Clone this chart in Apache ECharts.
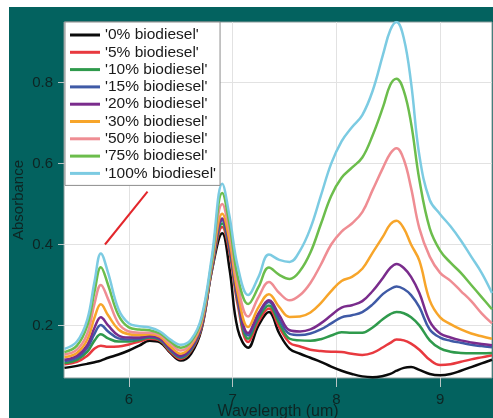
<!DOCTYPE html>
<html>
<head>
<meta charset="utf-8">
<script src="https://cdn.jsdelivr.net/npm/echarts@6/dist/echarts.min.js"></script>
<style>
  html, body { margin: 0; padding: 0; background: #ffffff; }
  #bg { position: absolute; left: 9px; top: 7px; width: 484px; height: 411px; background: #03625f; }
  #main { position: absolute; left: 0; top: 0; width: 493px; height: 418px; }
</style>
</head>
<body>
<div id="bg"></div>
<div id="main"></div>
<script>
// wavelength (um)
const wavelength = [5.38, 5.5, 5.6, 5.67, 5.73, 5.8, 5.9, 6.0, 6.1, 6.2, 6.3, 6.4, 6.5, 6.6, 6.7, 6.8, 6.9, 6.97, 7.05, 7.15,
  7.25, 7.35, 7.45, 7.55, 7.65, 7.75, 7.85, 7.95, 8.05, 8.15, 8.25, 8.35, 8.45, 8.52, 8.58, 8.65, 8.72, 8.8, 8.9, 9.0,
  9.1, 9.2, 9.3, 9.4, 9.5];

const names = ["'0% biodiesel'", "'5% biodiesel'", "'10% biodiesel'", "'15% biodiesel'", "'20% biodiesel'",
  "'30% biodiesel'", "'50% biodiesel'", "'75% biodiesel'", "'100% biodiesel'"];
const colors = ['#0a0a0a', '#e8393f', '#2f9a4c', '#3f5aa6', '#7a2c8c', '#f7a52a', '#ef8d93', '#6cbd4c', '#7ccbe2'];

const b0 = [0.095, 0.1, 0.105, 0.109, 0.113, 0.12, 0.128, 0.138, 0.15, 0.162, 0.158, 0.132, 0.113, 0.13, 0.19, 0.335, 0.428, 0.34, 0.19, 0.145,
  0.2, 0.233, 0.18, 0.142, 0.13, 0.12, 0.11, 0.098, 0.088, 0.08, 0.074, 0.072, 0.075, 0.08, 0.088, 0.095, 0.097, 0.09, 0.08, 0.077,
  0.08, 0.088, 0.097, 0.106, 0.115];
const b5 = [0.104, 0.11, 0.125, 0.143, 0.15, 0.147, 0.148, 0.153, 0.16, 0.167, 0.162, 0.135, 0.117, 0.137, 0.193, 0.337, 0.443, 0.38, 0.25, 0.159,
  0.21, 0.242, 0.195, 0.157, 0.148, 0.14, 0.137, 0.135, 0.134, 0.13, 0.127, 0.132, 0.146, 0.157, 0.165, 0.163, 0.155, 0.14, 0.115, 0.102,
  0.104, 0.11, 0.116, 0.121, 0.126];
const b10 = [0.107, 0.115, 0.135, 0.163, 0.178, 0.168, 0.16, 0.16, 0.164, 0.17, 0.164, 0.138, 0.12, 0.14, 0.196, 0.34, 0.452, 0.39, 0.26, 0.167,
  0.218, 0.249, 0.205, 0.167, 0.163, 0.162, 0.166, 0.175, 0.183, 0.182, 0.182, 0.195, 0.216, 0.228, 0.233, 0.23, 0.22, 0.2, 0.163, 0.143,
  0.135, 0.132, 0.131, 0.131, 0.132];
const b15 = [0.112, 0.12, 0.145, 0.18, 0.201, 0.185, 0.168, 0.165, 0.167, 0.172, 0.166, 0.14, 0.122, 0.142, 0.198, 0.343, 0.46, 0.395, 0.265, 0.175,
  0.225, 0.258, 0.215, 0.179, 0.176, 0.18, 0.19, 0.205, 0.22, 0.225, 0.233, 0.252, 0.278, 0.29, 0.296, 0.29, 0.275, 0.245, 0.19, 0.17,
  0.162, 0.157, 0.152, 0.149, 0.146];
const b20 = [0.115, 0.125, 0.152, 0.195, 0.22, 0.2, 0.175, 0.17, 0.17, 0.174, 0.168, 0.143, 0.125, 0.145, 0.2, 0.345, 0.464, 0.4, 0.27, 0.181,
  0.23, 0.262, 0.225, 0.188, 0.185, 0.19, 0.205, 0.225, 0.244, 0.25, 0.26, 0.285, 0.318, 0.342, 0.352, 0.342, 0.32, 0.28, 0.21, 0.18,
  0.17, 0.163, 0.158, 0.154, 0.151];
const b30 = [0.122, 0.132, 0.165, 0.22, 0.252, 0.225, 0.19, 0.178, 0.176, 0.178, 0.172, 0.148, 0.13, 0.15, 0.205, 0.35, 0.476, 0.41, 0.28, 0.196,
  0.245, 0.277, 0.245, 0.221, 0.222, 0.232, 0.255, 0.285, 0.31, 0.32, 0.34, 0.38, 0.42, 0.45, 0.459, 0.44, 0.4, 0.36, 0.262, 0.22,
  0.203, 0.19, 0.18, 0.173, 0.167];
const b50 = [0.128, 0.14, 0.18, 0.255, 0.3, 0.265, 0.205, 0.185, 0.182, 0.182, 0.176, 0.155, 0.138, 0.155, 0.21, 0.355, 0.5, 0.43, 0.3, 0.222,
  0.27, 0.307, 0.28, 0.262, 0.275, 0.305, 0.35, 0.4, 0.432, 0.452, 0.48, 0.535, 0.59, 0.625, 0.638, 0.61, 0.54, 0.44, 0.37, 0.33,
  0.31, 0.285, 0.26, 0.23, 0.205];
const b75 = [0.134, 0.15, 0.2, 0.285, 0.344, 0.3, 0.225, 0.195, 0.19, 0.188, 0.18, 0.16, 0.145, 0.16, 0.215, 0.36, 0.527, 0.45, 0.32, 0.253,
  0.295, 0.343, 0.325, 0.315, 0.335, 0.38, 0.45, 0.52, 0.565, 0.59, 0.615, 0.67, 0.74, 0.795, 0.81, 0.78, 0.7, 0.56, 0.44, 0.385,
  0.355, 0.33, 0.3, 0.27, 0.24];
const b100 = [0.142, 0.16, 0.215, 0.31, 0.378, 0.33, 0.24, 0.205, 0.198, 0.195, 0.185, 0.165, 0.152, 0.165, 0.22, 0.37, 0.55, 0.47, 0.345, 0.275,
  0.32, 0.375, 0.362, 0.357, 0.385, 0.44, 0.52, 0.6, 0.655, 0.69, 0.72, 0.78, 0.87, 0.93, 0.95, 0.91, 0.8, 0.62, 0.51, 0.475,
  0.445, 0.41, 0.37, 0.33, 0.28];

const allSeries = [b0, b5, b10, b15, b20, b30, b50, b75, b100];

// red pointer line near the 5.7 um peak
const arrowX = [5.77, 6.18];
const arrowY = [0.40, 0.531];

const xTicks = [6, 7, 8, 9];
const yTicks = [0.2, 0.4, 0.6, 0.8];

const textColor = '#0e2523';
const font = 'Liberation Sans, Arial, sans-serif';

let myChart = echarts.init(document.getElementById('main'));

let series = allSeries.map(function (vals, i) {
  return {
    name: names[i],
    type: 'line',
    smooth: 0.4,
    symbol: 'none',
    lineStyle: { width: 2.5, color: colors[i] },
    itemStyle: { color: colors[i] },
    data: wavelength.map(function (x, j) { return [x, vals[j]]; })
  };
});
series.push({
  name: 'arrow',
  type: 'line',
  symbol: 'none',
  silent: true,
  lineStyle: { width: 2, color: '#e3262b' },
  data: arrowX.map(function (x, j) { return [x, arrowY[j]]; })
});

myChart.setOption({
  animation: false,
  grid: {
    left: 64,
    top: 22,
    right: 1,
    bottom: 40,
    outerBoundsMode: 'none',
    containLabel: false,
    show: true,
    backgroundColor: '#ffffff',
    borderColor: '#8a9a9a',
    borderWidth: 1
  },
  legend: {
    data: names,
    orient: 'vertical',
    left: 65,
    top: 22,
    padding: [5, 4, 4, 5],
    backgroundColor: '#ffffff',
    borderColor: '#8c8c8c',
    borderWidth: 1,
    icon: 'rect',
    itemWidth: 30,
    itemHeight: 3,
    itemGap: 1.3,
    selectedMode: false,
    textStyle: { fontFamily: font, fontSize: 15.5, lineHeight: 16, color: '#1a1a1a' }
  },
  xAxis: {
    type: 'value',
    min: 5.375,
    max: 9.5,
    name: 'Wavelength (um)',
    nameLocation: 'middle',
    nameGap: 26,
    nameMoveOverlap: false,
    nameTextStyle: { fontFamily: font, fontSize: 16, color: textColor },
    axisLine: { show: false },
    axisTick: { show: true, length: 9, customValues: xTicks, lineStyle: { color: '#b8c4c4' } },
    axisLabel: { customValues: xTicks, margin: 14, fontFamily: font, fontSize: 15, color: textColor },
    splitLine: { show: true, lineStyle: { color: '#e2e2e2', width: 1 } }
  },
  yAxis: {
    type: 'value',
    min: 0.07,
    max: 0.95,
    name: 'Absorbance',
    nameLocation: 'middle',
    nameGap: 38,
    nameMoveOverlap: false,
    nameTextStyle: { fontFamily: font, fontSize: 15, color: textColor },
    axisLine: { show: false },
    axisTick: { show: true, length: 6, customValues: yTicks, lineStyle: { color: '#b8c4c4' } },
    axisLabel: { customValues: yTicks, margin: 11, fontFamily: font, fontSize: 15, color: textColor },
    splitLine: { show: true, lineStyle: { color: '#e2e2e2', width: 1 } }
  },
  series: series
});
</script>
</body>
</html>
